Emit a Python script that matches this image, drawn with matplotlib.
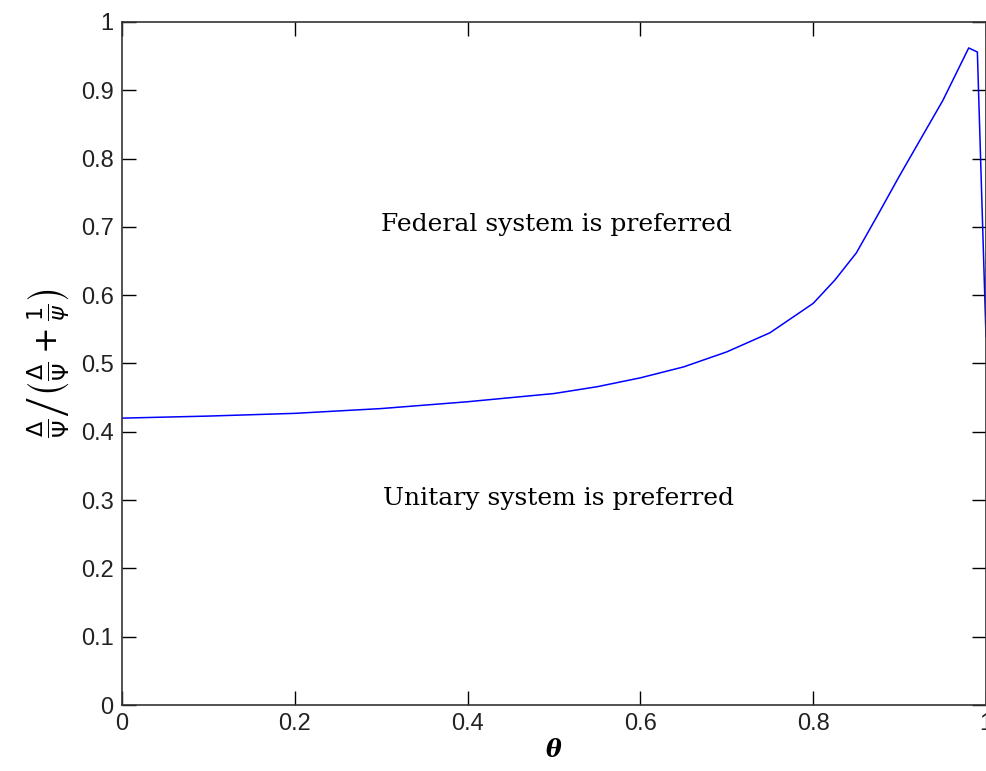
import matplotlib
matplotlib.use("Agg")
import matplotlib.pyplot as plt

# curve
theta = [0.0, 0.1, 0.2, 0.3, 0.4, 0.5, 0.55, 0.6, 0.65, 0.7, 0.75, 0.8,
         0.825, 0.85, 0.875, 0.9, 0.925, 0.95, 0.98, 0.99, 1.0]
ratio = [0.420, 0.423, 0.427, 0.434, 0.444, 0.456, 0.466, 0.479, 0.495, 0.517,
         0.545, 0.588, 0.622, 0.662, 0.718, 0.775, 0.830, 0.885, 0.962, 0.956, 0.539]

xticks = [0, 0.2, 0.4, 0.6, 0.8, 1]
xticklabels = ["0", "0.2", "0.4", "0.6", "0.8", "1"]
yticks = [0, 0.1, 0.2, 0.3, 0.4, 0.5, 0.6, 0.7, 0.8, 0.9, 1]
yticklabels = ["0", "0.1", "0.2", "0.3", "0.4", "0.5", "0.6", "0.7", "0.8", "0.9", "1"]

fig = plt.figure(figsize=(9.86, 7.71), dpi=100)
ax = fig.add_axes([0.1237, 0.0856, 0.8763, 0.8859])

ax.plot(theta, ratio, color="blue", linewidth=1.1)

ax.set_xlim(0, 1)
ax.set_ylim(0, 1)
ax.set_xticks(xticks)
ax.set_xticklabels(xticklabels)
ax.set_yticks(yticks)
ax.set_yticklabels(yticklabels)
ax.tick_params(direction="in", length=10, width=1, top=True, right=True,
               labelsize=17, pad=6)
for lbl in ax.get_xticklabels() + ax.get_yticklabels():
    lbl.set_family("Liberation Sans")
    lbl.set_color("#222222")
for sp in ax.spines.values():
    sp.set_linewidth(1.2)
    sp.set_color("#333333")

ax.text(0.30, 0.703, "Federal system is preferred", family="DejaVu Serif",
        fontsize=18, va="center", ha="left")
ax.text(0.302, 0.303, "Unitary system is preferred", family="DejaVu Serif",
        fontsize=18, va="center", ha="left")

ax.set_xlabel("θ", family="DejaVu Serif", fontsize=17, fontweight="bold",
              fontstyle="italic", labelpad=2)
ax.set_ylabel(r"$\left.\frac{\Delta}{\Psi}\right/\left(\frac{\Delta}{\Psi}+\frac{1}{\psi}\right)$",
              fontsize=23, labelpad=6)

fig.savefig("out.png", dpi=100)
